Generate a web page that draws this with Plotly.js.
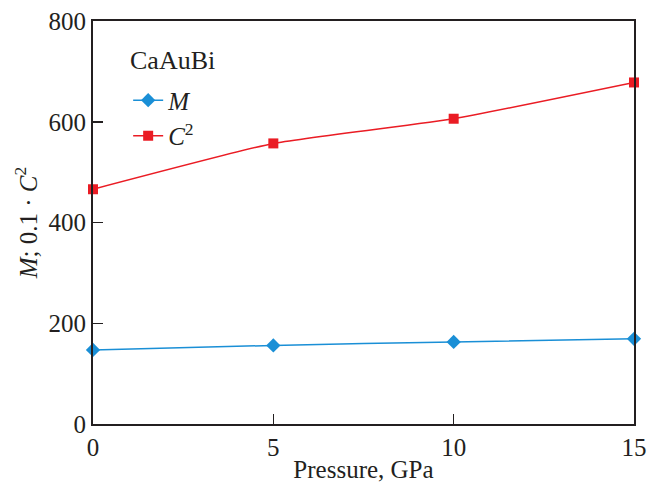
<!DOCTYPE html>
<html><head><meta charset="utf-8">
<script src="https://cdn.plot.ly/plotly-3.0.1.min.js"></script>
<style>html,body{margin:0;padding:0;background:#fff}</style>
</head><body><div id="chart" style="width:658px;height:484px"></div>
<script>
const pressure = [0, 5, 10, 15];
const M = [147, 156, 163, 169];
const C2 = [466, 557, 606, 678];
const xTicks = [0, 5, 10, 15];
const yTicks = [0, 200, 400, 600, 800];

const font = "Liberation Serif, Times New Roman, serif";
const traces = [
  {x: pressure, y: M, name: "<i>M</i>", mode: "lines+markers",
   line: {color: "#1a8fd6", width: 1.5, shape: "spline", smoothing: 0.4},
   marker: {symbol: "diamond", size: 11, color: "#1a8fd6"}, cliponaxis: false},
  {x: pressure, y: C2, name: "<i>C</i><sup>2</sup>", mode: "lines+markers",
   line: {color: "#ea1c24", width: 1.5, shape: "spline", smoothing: 0.4},
   marker: {symbol: "square", size: 10, color: "#ea1c24"}, cliponaxis: false}
];
const layout = {
  width: 658, height: 484,
  margin: {l: 93, r: 24, t: 21, b: 60},
  paper_bgcolor: "#fff", plot_bgcolor: "#fff",
  font: {family: font, color: "#231f20", size: 25},
  showlegend: true,
  legend: {x: 0.065, y: 0.86, xanchor: "left", yanchor: "top",
    font: {size: 25}, bgcolor: "rgba(0,0,0,0)", tracegroupgap: 0, itemwidth: 30},
  annotations: [{text: "CaAuBi", xref: "paper", yref: "paper", x: 0.064, y: 0.903,
    xanchor: "left", yanchor: "middle", showarrow: false, font: {size: 26}}],
  xaxis: {range: [0, 15], tickvals: xTicks, ticktext: xTicks.map(String),
    ticks: "inside", ticklen: 10, tickwidth: 1.5, tickcolor: "#231f20",
    showline: true, linecolor: "#231f20", linewidth: 2, mirror: true,
    showgrid: false, zeroline: false, tickfont: {size: 25},
    title: {text: "Pressure, GPa", font: {size: 25}, standoff: 0}},
  yaxis: {range: [0, 800], tickvals: yTicks, ticktext: yTicks.map(String),
    ticks: "inside", ticklen: 10, tickwidth: 1.5, tickcolor: "#231f20",
    showline: true, linecolor: "#231f20", linewidth: 2, mirror: true,
    showgrid: false, zeroline: false, tickfont: {size: 25},
    title: {text: "<i>M</i>; 0.1 · <i>C</i><sup>2</sup>", font: {size: 25}, standoff: 4}}
};
Plotly.newPlot("chart", traces, layout, {displayModeBar: false, staticPlot: true});
</script></body></html>
